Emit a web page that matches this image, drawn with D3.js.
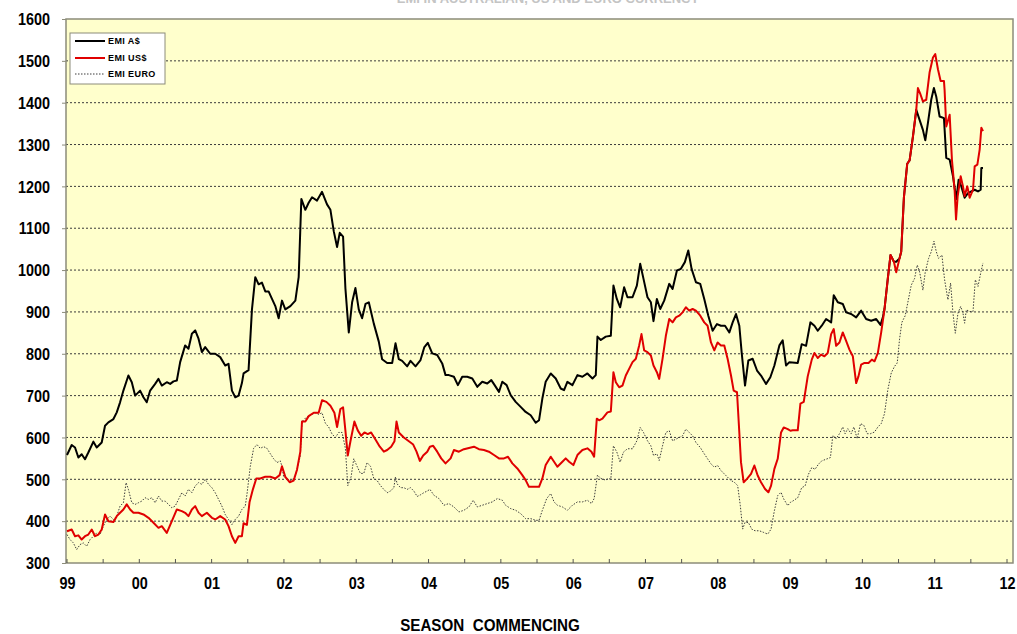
<!DOCTYPE html>
<html><head><meta charset="utf-8">
<script src="https://cdn.jsdelivr.net/npm/d3@7"></script>
<style>body{margin:0;background:#fff;} svg{display:block;font-family:"Liberation Sans",Arial,sans-serif;}</style>
</head><body><svg id="c" width="1017" height="634"></svg>
<script>
const chartTitle = "EMI IN AUSTRALIAN, US AND EURO CURRENCY";
const xAxisTitle = "SEASON  COMMENCING";
const yTickValues = [300,400,500,600,700,800,900,1000,1100,1200,1300,1400,1500,1600];
const xTickYears = [1999,2000,2001,2002,2003,2004,2005,2006,2007,2008,2009,2010,2011,2012];
const xTickLabels = ["99","00","01","02","03","04","05","06","07","08","09","10","11","12"];
const seriesNames = ["EMI A$","EMI US$","EMI EURO"];

const emiAUD = [[1999.00,558],[1999.065,582],[1999.111,576],[1999.157,552],[1999.203,560],[1999.249,548],[1999.295,564],[1999.365,590],[1999.411,576],[1999.48,588],[1999.526,628],[1999.572,636],[1999.642,644],[1999.688,660],[1999.734,684],[1999.78,712],[1999.849,748],[1999.896,732],[1999.942,700],[2000.011,712],[2000.057,696],[2000.103,684],[2000.15,712],[2000.219,728],[2000.265,740],[2000.311,724],[2000.38,732],[2000.427,728],[2000.473,734],[2000.519,736],[2000.565,780],[2000.634,820],[2000.68,812],[2000.727,848],[2000.773,856],[2000.819,836],[2000.865,804],[2000.911,816],[2000.981,800],[2001.05,800],[2001.119,792],[2001.188,772],[2001.234,776],[2001.281,712],[2001.327,696],[2001.373,700],[2001.419,730],[2001.442,753],[2001.511,761],[2001.558,906],[2001.604,983],[2001.65,966],[2001.696,970],[2001.742,949],[2001.788,949],[2001.835,931],[2001.881,914],[2001.927,885],[2001.973,927],[2002.019,906],[2002.089,914],[2002.158,927],[2002.204,983],[2002.241,1170],[2002.296,1144],[2002.342,1161],[2002.389,1174],[2002.458,1166],[2002.527,1187],[2002.596,1157],[2002.643,1144],[2002.689,1093],[2002.735,1055],[2002.772,1089],[2002.818,1080],[2002.85,957],[2002.897,851],[2002.943,923],[2002.989,957],[2003.035,906],[2003.081,885],[2003.128,919],[2003.174,923],[2003.243,872],[2003.312,829],[2003.358,787],[2003.428,778],[2003.497,778],[2003.543,825],[2003.589,787],[2003.635,783],[2003.705,770],[2003.751,783],[2003.82,770],[2003.889,785],[2003.94,815],[2003.99,826],[2004.051,801],[2004.12,797],[2004.189,777],[2004.235,749],[2004.281,749],[2004.351,745],[2004.406,725],[2004.466,745],[2004.535,745],[2004.605,741],[2004.674,721],[2004.743,733],[2004.812,729],[2004.868,737],[2004.914,725],[2004.974,709],[2005.02,733],[2005.08,725],[2005.136,701],[2005.205,685],[2005.274,673],[2005.343,661],[2005.413,653],[2005.482,635],[2005.528,641],[2005.574,693],[2005.62,733],[2005.69,753],[2005.759,741],[2005.828,717],[2005.874,713],[2005.92,733],[2005.99,725],[2006.059,749],[2006.128,745],[2006.197,753],[2006.267,741],[2006.313,749],[2006.336,841],[2006.382,833],[2006.451,841],[2006.521,843],[2006.557,963],[2006.604,931],[2006.65,911],[2006.705,959],[2006.751,935],[2006.821,935],[2006.881,963],[2006.927,1015],[2006.973,979],[2007.028,935],[2007.075,923],[2007.111,878],[2007.158,931],[2007.204,907],[2007.259,927],[2007.329,967],[2007.375,955],[2007.435,999],[2007.49,1003],[2007.545,1019],[2007.592,1047],[2007.638,1003],[2007.698,971],[2007.758,967],[2007.813,931],[2007.869,891],[2007.929,855],[2007.989,871],[2008.044,867],[2008.1,867],[2008.16,851],[2008.206,875],[2008.252,895],[2008.298,867],[2008.33,804],[2008.377,724],[2008.423,784],[2008.483,788],[2008.543,760],[2008.598,748],[2008.668,728],[2008.727,744],[2008.783,772],[2008.852,820],[2008.898,832],[2008.944,772],[2008.991,780],[2009.106,778],[2009.161,823],[2009.221,819],[2009.281,875],[2009.337,867],[2009.383,855],[2009.438,867],[2009.498,883],[2009.568,875],[2009.604,940],[2009.66,923],[2009.729,919],[2009.775,899],[2009.845,895],[2009.914,887],[2009.983,903],[2010.052,883],[2010.122,879],[2010.191,883],[2010.251,869],[2010.283,887],[2010.306,907],[2010.352,980],[2010.389,1036],[2010.436,1020],[2010.468,1020],[2010.514,1028],[2010.537,1044],[2010.574,1173],[2010.62,1254],[2010.653,1262],[2010.699,1319],[2010.745,1383],[2010.791,1359],[2010.837,1335],[2010.87,1310],[2010.906,1351],[2010.952,1407],[2010.989,1435],[2011.021,1415],[2011.068,1367],[2011.128,1363],[2011.16,1268],[2011.207,1264],[2011.253,1224],[2011.299,1169],[2011.331,1216],[2011.368,1200],[2011.414,1173],[2011.461,1184],[2011.507,1188],[2011.553,1192],[2011.599,1188],[2011.636,1192],[2011.645,1244],[2011.668,1244]];

const emiUSD = [[1999.00,376],[1999.065,380],[1999.111,364],[1999.157,366],[1999.203,356],[1999.249,364],[1999.295,368],[1999.342,380],[1999.388,364],[1999.434,368],[1999.48,380],[1999.526,416],[1999.572,400],[1999.642,398],[1999.688,412],[1999.734,420],[1999.78,428],[1999.826,440],[1999.873,428],[1999.919,420],[1999.988,420],[2000.057,416],[2000.127,408],[2000.196,396],[2000.265,384],[2000.311,388],[2000.38,372],[2000.45,400],[2000.519,428],[2000.588,424],[2000.634,420],[2000.68,412],[2000.727,428],[2000.773,436],[2000.819,420],[2000.865,412],[2000.934,420],[2001.004,408],[2001.05,404],[2001.119,412],[2001.188,404],[2001.234,388],[2001.281,364],[2001.327,348],[2001.373,364],[2001.419,364],[2001.442,395],[2001.488,391],[2001.525,446],[2001.571,476],[2001.618,502],[2001.673,502],[2001.742,506],[2001.812,506],[2001.881,502],[2001.941,510],[2001.973,531],[2002.019,506],[2002.079,493],[2002.135,497],[2002.181,523],[2002.227,566],[2002.25,638],[2002.296,638],[2002.342,651],[2002.412,659],[2002.481,659],[2002.527,689],[2002.587,685],[2002.643,676],[2002.698,659],[2002.735,625],[2002.781,668],[2002.818,672],[2002.85,617],[2002.883,557],[2002.92,591],[2002.975,638],[2003.021,617],[2003.068,604],[2003.114,612],[2003.16,608],[2003.206,612],[2003.266,595],[2003.326,578],[2003.382,566],[2003.428,570],[2003.483,578],[2003.529,591],[2003.557,638],[2003.589,612],[2003.658,600],[2003.728,591],[2003.788,583],[2003.834,566],[2003.88,544],[2003.926,557],[2003.982,566],[2004.019,578],[2004.064,580],[2004.12,566],[2004.175,550],[2004.235,538],[2004.305,550],[2004.351,570],[2004.42,566],[2004.489,572],[2004.559,575],[2004.628,578],[2004.697,572],[2004.766,570],[2004.835,566],[2004.905,558],[2004.974,550],[2005.043,550],[2005.099,554],[2005.159,538],[2005.228,526],[2005.297,510],[2005.343,498],[2005.389,482],[2005.459,482],[2005.528,482],[2005.574,502],[2005.62,534],[2005.69,554],[2005.736,542],[2005.782,530],[2005.851,542],[2005.897,550],[2005.944,542],[2006.003,534],[2006.059,558],[2006.128,570],[2006.197,574],[2006.253,566],[2006.29,554],[2006.327,645],[2006.359,641],[2006.405,645],[2006.474,660],[2006.521,662],[2006.557,756],[2006.59,732],[2006.636,720],[2006.682,724],[2006.728,748],[2006.774,764],[2006.821,780],[2006.867,788],[2006.913,820],[2006.945,847],[2006.982,808],[2007.028,804],[2007.075,796],[2007.111,772],[2007.158,756],[2007.19,740],[2007.236,788],[2007.282,843],[2007.329,883],[2007.375,875],[2007.421,887],[2007.467,891],[2007.513,899],[2007.559,911],[2007.605,903],[2007.652,907],[2007.698,903],[2007.758,891],[2007.813,875],[2007.859,867],[2007.906,827],[2007.952,808],[2007.998,827],[2008.044,820],[2008.09,820],[2008.136,788],[2008.183,748],[2008.22,712],[2008.266,708],[2008.298,612],[2008.321,541],[2008.358,493],[2008.404,501],[2008.46,513],[2008.506,533],[2008.552,509],[2008.598,493],[2008.654,477],[2008.7,469],[2008.737,485],[2008.783,525],[2008.829,549],[2008.875,612],[2008.912,624],[2008.968,620],[2009.005,616],[2009.037,617],[2009.106,617],[2009.143,681],[2009.189,685],[2009.244,746],[2009.3,786],[2009.337,802],[2009.383,790],[2009.429,798],[2009.475,794],[2009.521,802],[2009.568,847],[2009.604,859],[2009.637,819],[2009.683,827],[2009.729,851],[2009.775,831],[2009.821,810],[2009.868,794],[2009.914,730],[2009.946,746],[2009.983,774],[2010.029,778],[2010.085,778],[2010.131,786],[2010.168,782],[2010.214,802],[2010.26,851],[2010.306,907],[2010.352,980],[2010.389,1036],[2010.436,1020],[2010.468,995],[2010.514,1028],[2010.537,1044],[2010.574,1173],[2010.62,1254],[2010.653,1262],[2010.699,1319],[2010.745,1383],[2010.768,1435],[2010.805,1419],[2010.837,1403],[2010.883,1407],[2010.929,1472],[2010.976,1508],[2011.008,1516],[2011.045,1480],[2011.082,1452],[2011.128,1452],[2011.137,1430],[2011.16,1343],[2011.207,1371],[2011.239,1262],[2011.276,1190],[2011.295,1121],[2011.318,1177],[2011.359,1224],[2011.391,1200],[2011.414,1177],[2011.451,1200],[2011.484,1173],[2011.53,1192],[2011.553,1248],[2011.59,1252],[2011.622,1288],[2011.645,1340],[2011.668,1332]];

const emiEURO = [[1999.00,368],[1999.042,356],[1999.088,348],[1999.134,332],[1999.18,344],[1999.226,348],[1999.272,340],[1999.319,356],[1999.365,364],[1999.411,372],[1999.457,368],[1999.503,388],[1999.549,404],[1999.596,412],[1999.642,404],[1999.688,412],[1999.734,436],[1999.78,444],[1999.817,492],[1999.849,476],[1999.896,444],[1999.942,440],[1999.988,444],[2000.034,448],[2000.08,456],[2000.127,452],[2000.173,456],[2000.219,444],[2000.265,460],[2000.311,448],[2000.357,448],[2000.404,440],[2000.45,432],[2000.496,436],[2000.542,452],[2000.588,468],[2000.634,460],[2000.68,476],[2000.727,468],[2000.773,484],[2000.819,492],[2000.865,488],[2000.911,500],[2000.957,488],[2001.004,480],[2001.05,468],[2001.096,452],[2001.142,436],[2001.188,416],[2001.234,404],[2001.281,392],[2001.327,404],[2001.373,412],[2001.419,428],[2001.465,436],[2001.488,463],[2001.535,531],[2001.581,574],[2001.627,583],[2001.673,574],[2001.719,578],[2001.765,574],[2001.812,561],[2001.858,549],[2001.904,540],[2001.95,544],[2001.973,531],[2001.996,506],[2002.042,502],[2002.089,497],[2002.135,502],[2002.181,523],[2002.227,557],[2002.25,638],[2002.296,646],[2002.342,651],[2002.389,655],[2002.435,659],[2002.481,655],[2002.527,659],[2002.573,634],[2002.619,625],[2002.666,608],[2002.712,600],[2002.758,612],[2002.804,612],[2002.85,574],[2002.883,485],[2002.929,506],[2002.966,549],[2003.012,531],[2003.058,514],[2003.104,514],[2003.15,540],[2003.197,531],[2003.243,502],[2003.289,497],[2003.335,485],[2003.381,476],[2003.428,468],[2003.474,472],[2003.52,480],[2003.543,506],[2003.566,489],[2003.612,480],[2003.658,480],[2003.705,476],[2003.751,480],[2003.797,472],[2003.843,459],[2003.889,463],[2003.935,468],[2003.982,472],[2004.019,476],[2004.074,462],[2004.143,454],[2004.212,438],[2004.281,442],[2004.351,434],[2004.42,422],[2004.489,426],[2004.559,434],[2004.618,450],[2004.674,434],[2004.743,438],[2004.812,442],[2004.882,446],[2004.951,454],[2005.02,450],[2005.066,438],[2005.136,430],[2005.205,426],[2005.274,418],[2005.343,406],[2005.413,406],[2005.482,402],[2005.528,402],[2005.574,426],[2005.634,454],[2005.69,466],[2005.736,446],[2005.782,438],[2005.851,434],[2005.92,426],[2005.99,438],[2006.059,446],[2006.128,446],[2006.197,450],[2006.253,442],[2006.29,454],[2006.336,510],[2006.382,502],[2006.451,498],[2006.474,501],[2006.521,501],[2006.557,580],[2006.604,565],[2006.65,541],[2006.696,565],[2006.751,573],[2006.821,573],[2006.881,592],[2006.927,624],[2006.973,612],[2007.028,592],[2007.075,580],[2007.111,557],[2007.158,561],[2007.19,545],[2007.236,580],[2007.282,612],[2007.329,616],[2007.375,592],[2007.421,596],[2007.467,600],[2007.513,604],[2007.559,620],[2007.605,612],[2007.652,604],[2007.698,588],[2007.758,576],[2007.813,561],[2007.859,549],[2007.906,537],[2007.952,529],[2007.998,533],[2008.044,521],[2008.09,513],[2008.136,505],[2008.183,497],[2008.229,493],[2008.275,485],[2008.312,437],[2008.344,381],[2008.377,397],[2008.423,397],[2008.469,381],[2008.515,377],[2008.575,377],[2008.635,373],[2008.691,369],[2008.737,381],[2008.783,425],[2008.829,461],[2008.875,469],[2008.912,453],[2008.968,437],[2009.005,445],[2009.037,448],[2009.106,456],[2009.161,480],[2009.207,484],[2009.254,512],[2009.3,528],[2009.346,524],[2009.392,536],[2009.438,544],[2009.498,548],[2009.558,552],[2009.591,605],[2009.637,597],[2009.683,609],[2009.729,625],[2009.761,609],[2009.798,621],[2009.845,609],[2009.882,625],[2009.928,597],[2009.974,633],[2010.02,629],[2010.066,609],[2010.112,609],[2010.168,613],[2010.214,625],[2010.26,633],[2010.306,657],[2010.352,714],[2010.399,754],[2010.445,770],[2010.482,778],[2010.514,835],[2010.546,875],[2010.592,891],[2010.629,923],[2010.676,964],[2010.722,980],[2010.759,1012],[2010.791,996],[2010.837,952],[2010.87,996],[2010.916,1028],[2010.953,1044],[2010.99,1069],[2011.022,1044],[2011.054,1028],[2011.1,1036],[2011.137,977],[2011.183,929],[2011.22,969],[2011.253,897],[2011.285,849],[2011.322,897],[2011.359,913],[2011.391,897],[2011.414,873],[2011.437,905],[2011.484,901],[2011.53,901],[2011.562,977],[2011.599,961],[2011.636,993],[2011.668,1017]];

const svg = d3.select("#c");
const plot = {left: 66, right: 1013, top: 19, bottom: 563};
const x = d3.scaleLinear().domain([1999, 2012]).range([67, 1007]);
const y = d3.scaleLinear().domain([300, 1600]).range([plot.bottom, plot.top]);

// title (mostly clipped at top edge, as in reference)
svg.append("text").attr("x", 548).attr("y", 3).attr("text-anchor", "middle")
  .attr("font-size", 13).attr("font-weight", "bold").attr("fill", "#c4c4c4").text(chartTitle);

// plot background
svg.append("rect").attr("x", plot.left).attr("y", plot.top)
  .attr("width", plot.right - plot.left).attr("height", plot.bottom - plot.top)
  .attr("fill", "#FFFFCC");

// gridlines
svg.append("g").selectAll("line").data(yTickValues.filter(v => v > 300 && v < 1600)).join("line")
  .attr("x1", plot.left).attr("x2", plot.right)
  .attr("y1", d => y(d)).attr("y2", d => y(d))
  .attr("stroke", "#3a3a3a").attr("stroke-width", 1).attr("stroke-dasharray", "2,2");

// frame
svg.append("rect").attr("x", plot.left).attr("y", plot.top)
  .attr("width", plot.right - plot.left).attr("height", plot.bottom - plot.top)
  .attr("fill", "none").attr("stroke", "#8c8c7a").attr("stroke-width", 1.5);

// y axis
const yAxis = d3.axisLeft(y).tickValues(yTickValues).tickSize(4).tickPadding(14).tickFormat(d3.format("d"));
const gy = svg.append("g").attr("transform", `translate(${plot.left},0)`).call(yAxis);
gy.select(".domain").remove();
gy.selectAll(".tick line").attr("stroke", "#8c8c7a");
gy.selectAll(".tick text").each(function(){
  d3.select(this).attr("font-size", 16).attr("font-weight", "bold").attr("fill", "#000")
   .attr("font-family", '"Liberation Sans", Arial, sans-serif')
   .attr("transform", "scale(0.9,1)").attr("x", -16/0.9).attr("dy", "0.36em");
});

// x axis labels
const xAxis = d3.axisBottom(x).tickValues(xTickYears).tickSize(0).tickPadding(0)
  .tickFormat((d, i) => xTickLabels[i]);
const gx = svg.append("g").attr("transform", `translate(0,${plot.bottom})`).call(xAxis);
gx.select(".domain").remove();
gx.selectAll(".tick text").each(function(){
  d3.select(this).attr("font-size", 16).attr("font-weight", "bold").attr("fill", "#000")
    .attr("font-family", '"Liberation Sans", Arial, sans-serif')
    .attr("y", 0).attr("dy", 0).attr("transform", "translate(0,26) scale(0.9,1)");
});
// minor ticks inside the plot
const halfYears = d3.range(1999, 2012.01, 0.5);
svg.append("g").selectAll("line").data(halfYears).join("line")
  .attr("x1", d => x(d)).attr("x2", d => x(d))
  .attr("y1", plot.bottom).attr("y2", plot.bottom - 4)
  .attr("stroke", "#555").attr("stroke-width", 1);

// axis title
svg.append("text").attr("transform", "translate(490,631) scale(0.95,1)")
  .attr("text-anchor", "middle").attr("font-size", 16).attr("font-weight", "bold")
  .attr("fill", "#000").style("white-space", "pre").text(xAxisTitle);

// lines
const line = d3.line().x(d => x(d[0])).y(d => y(d[1]));
const lines = svg.append("g");
lines.append("path").datum(emiEURO).attr("d", line).attr("fill", "none")
  .attr("stroke", "#3c3c3c").attr("stroke-width", 1).attr("stroke-dasharray", "1.5,1.5");
lines.append("path").datum(emiAUD).attr("d", line).attr("fill", "none")
  .attr("stroke", "#000").attr("stroke-width", 2).attr("stroke-linejoin", "round");
lines.append("path").datum(emiUSD).attr("d", line).attr("fill", "none")
  .attr("stroke", "#e00000").attr("stroke-width", 2).attr("stroke-linejoin", "round");

// legend
const lg = svg.append("g");
lg.append("rect").attr("x", 70).attr("y", 33).attr("width", 95).attr("height", 51)
  .attr("fill", "#fff").attr("stroke", "#8c8c7a").attr("stroke-width", 1);
const legStyles = [
  {stroke: "#000", w: 2, dash: null},
  {stroke: "#e00000", w: 2, dash: null},
  {stroke: "#3c3c3c", w: 1, dash: "1.5,1.5"}
];
const legY = [41, 58, 74];
seriesNames.forEach((name, i) => {
  lg.append("line").attr("x1", 75).attr("x2", 105).attr("y1", legY[i]).attr("y2", legY[i])
    .attr("stroke", legStyles[i].stroke).attr("stroke-width", legStyles[i].w)
    .attr("stroke-dasharray", legStyles[i].dash);
  lg.append("text").attr("x", 108).attr("y", legY[i]).attr("dy", "0.35em")
    .attr("font-size", 9).attr("font-weight", "bold").attr("letter-spacing", 0.4)
    .attr("fill", "#000").text(name);
});
</script></body></html>
